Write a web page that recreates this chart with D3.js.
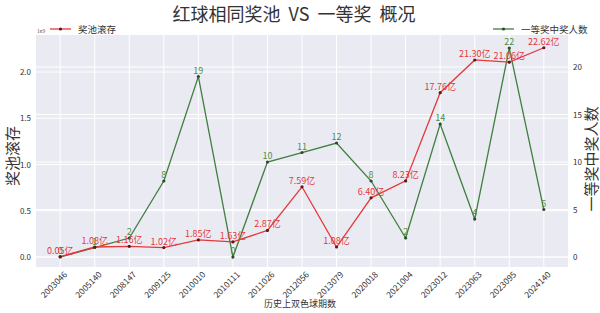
<!DOCTYPE html>
<html>
<head>
<meta charset="utf-8">
<script src="https://cdn.jsdelivr.net/npm/d3@7"></script>
<style>
  body { margin: 0; background: #fff; }
  text { font-family: "Noto Sans CJK SC", "DejaVu Sans", sans-serif; }
</style>
</head>
<body>
<div id="chart"></div>
<script>
const width = 600;
const height = 313;

// 期号
const periods = ["2003046", "2005140", "2008147", "2009125", "2010010", "2010111", "2011026",
  "2012056", "2013079", "2020018", "2021004", "2023012", "2023063", "2023095", "2024140"];
// 奖池滚存（亿）
const pool = [0.05, 1.08, 1.16, 1.02, 1.85, 1.63, 2.87, 7.59, 1.08, 6.40, 8.23, 17.76, 21.30, 21.06, 22.62];
// 一等奖中奖人数
const winners = [0, 1, 2, 8, 19, 0, 10, 11, 12, 8, 2, 14, 4, 22, 5];
const leftTicks = [0, 0.5, 1.0, 1.5, 2.0];
const rightTicks = [0, 5, 10, 15, 20];

const plot = { left: 36, right: 568, top: 35, bottom: 267 };
const redColor = "#e5383b";
const greenColor = "#3f7f3f";

const svg = d3.select("#chart").append("svg")
  .attr("width", width)
  .attr("height", height);

const x = d3.scaleLinear()
  .domain([-0.7, periods.length - 1 + 0.7])
  .range([plot.left, plot.right]);

const yLeft = d3.scaleLinear()
  .domain([-0.108, 2.4])
  .range([plot.bottom, plot.top]);

const yRight = d3.scaleLinear()
  .domain([-1.05, 23.37])
  .range([plot.bottom, plot.top]);

svg.append("rect")
  .attr("x", plot.left).attr("y", plot.top)
  .attr("width", plot.right - plot.left)
  .attr("height", plot.bottom - plot.top)
  .attr("fill", "#eaeaf2");

// grid
const grid = svg.append("g").attr("stroke", "#fff").attr("stroke-width", 1);
periods.forEach((p, i) => {
  grid.append("line")
    .attr("x1", x(i)).attr("x2", x(i))
    .attr("y1", plot.top).attr("y2", plot.bottom);
});
leftTicks.forEach(t => {
  grid.append("line")
    .attr("x1", plot.left).attr("x2", plot.right)
    .attr("y1", yLeft(t)).attr("y2", yLeft(t));
});
rightTicks.forEach(t => {
  grid.append("line")
    .attr("x1", plot.left).attr("x2", plot.right)
    .attr("y1", yRight(t)).attr("y2", yRight(t));
});

// axes
const axisLeft = d3.axisLeft(yLeft).tickValues(leftTicks).tickSize(0).tickPadding(5)
  .tickFormat(d3.format(".1f"));
const gLeft = svg.append("g").attr("transform", `translate(${plot.left},0)`).call(axisLeft);

const axisRight = d3.axisRight(yRight).tickValues(rightTicks).tickSize(0).tickPadding(5);
const gRight = svg.append("g").attr("transform", `translate(${plot.right},0)`).call(axisRight);

const axisBottom = d3.axisBottom(x).tickValues(d3.range(periods.length)).tickSize(0)
  .tickFormat(i => periods[i]);
const gBottom = svg.append("g").attr("transform", `translate(0,${plot.bottom})`).call(axisBottom);

[gLeft, gRight, gBottom].forEach(g => {
  g.select(".domain").remove();
  g.selectAll("text").attr("fill", "#333").style("font-size", "8px");
});
gBottom.selectAll("text")
  .attr("text-anchor", "end")
  .attr("transform", "translate(5,6) rotate(-45)")
  .attr("dy", "0.35em")
  .attr("y", 0)
  .style("font-size", "8.5px");

svg.append("text")
  .attr("x", plot.left + 1).attr("y", plot.top - 2)
  .attr("fill", "#555").style("font-size", "5px")
  .text("1e9");

// lines
const redLine = d3.line().x((d, i) => x(i)).y(d => yLeft(d / 10));
const greenLine = d3.line().x((d, i) => x(i)).y(d => yRight(d));

svg.append("path").datum(winners)
  .attr("d", greenLine)
  .attr("fill", "none").attr("stroke", greenColor).attr("stroke-width", 1.3);
svg.append("path").datum(pool)
  .attr("d", redLine)
  .attr("fill", "none").attr("stroke", redColor).attr("stroke-width", 1.3);

svg.append("g").selectAll("circle").data(winners).join("circle")
  .attr("cx", (d, i) => x(i)).attr("cy", d => yRight(d))
  .attr("r", 1.6).attr("fill", "#2d4a2d");
svg.append("g").selectAll("circle").data(pool).join("circle")
  .attr("cx", (d, i) => x(i)).attr("cy", d => yLeft(d / 10))
  .attr("r", 1.6).attr("fill", "#5a1a1a");

// value labels
svg.append("g").selectAll("text").data(winners).join("text")
  .attr("x", (d, i) => x(i)).attr("y", d => yRight(d) - 3)
  .attr("text-anchor", "middle")
  .attr("fill", "#4f8f3f").style("font-size", "9px")
  .text(d => d);
svg.append("g").selectAll("text").data(pool).join("text")
  .attr("x", (d, i) => x(i)).attr("y", d => yLeft(d / 10) - 3)
  .attr("text-anchor", "middle")
  .attr("fill", redColor).style("font-size", "9px")
  .text(d => d.toFixed(2) + "亿");

// title
svg.append("text")
  .attr("x", 294).attr("y", 21)
  .attr("text-anchor", "middle")
  .attr("fill", "#333").style("font-size", "18px")
  .style("white-space", "pre")
  .text("红球相同奖池  VS  一等奖  概况");

// axis titles
svg.append("text")
  .attr("transform", `translate(18,${(plot.top + plot.bottom) / 2 + 5}) rotate(-90)`)
  .attr("text-anchor", "middle")
  .attr("fill", "#333").style("font-size", "15px")
  .text("奖池滚存");
svg.append("text")
  .attr("transform", `translate(597,${(plot.top + plot.bottom) / 2 + 8}) rotate(-90)`)
  .attr("text-anchor", "middle")
  .attr("fill", "#333").style("font-size", "15px")
  .text("一等奖中奖人数");
svg.append("text")
  .attr("x", 300).attr("y", 307)
  .attr("text-anchor", "middle")
  .attr("fill", "#333").style("font-size", "9px")
  .text("历史上双色球期数");

// legends
function legend(x0, color, dot, label) {
  const g = svg.append("g");
  g.append("line").attr("x1", x0).attr("x2", x0 + 21).attr("y1", 29).attr("y2", 29)
    .attr("stroke", color).attr("stroke-width", 1.3);
  g.append("circle").attr("cx", x0 + 10.5).attr("cy", 29).attr("r", 1.6).attr("fill", dot);
  g.append("text").attr("x", x0 + 28).attr("y", 32.5)
    .attr("fill", "#333").style("font-size", "9.5px").text(label);
}
legend(50, redColor, "#5a1a1a", "奖池滚存");
legend(493, greenColor, "#2d4a2d", "一等奖中奖人数");
</script>
</body>
</html>
